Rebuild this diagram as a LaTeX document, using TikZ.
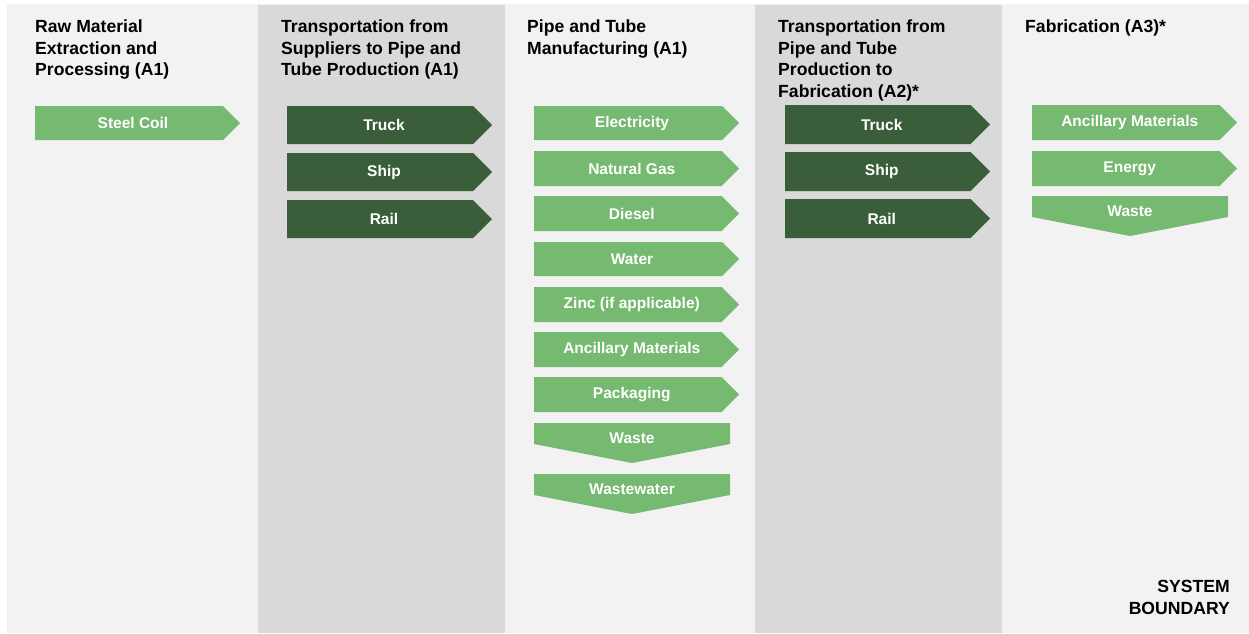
\documentclass[tikz,border=0pt]{standalone}
\usepackage{fontspec}
\setmainfont{Liberation Sans}
\definecolor{bglight}{RGB}{242,242,242}
\definecolor{bgdark}{RGB}{217,217,217}
\definecolor{glight}{RGB}{118,185,113}
\definecolor{gdark}{RGB}{59,94,58}
\tikzset{
  heading/.style={anchor=north west, align=left, inner sep=0pt, font=\fontsize{17.6}{21.5}\selectfont\bfseries, text=black},
  arrlabel/.style={inner sep=0pt, font=\fontsize{15.5}{17}\selectfont\bfseries, text=white},
}
% name, x-left, y-top, width, height, colour, text
\newcommand\myRarrow[7]{%
  \fill[#6] (#2,#3) -- ++({#4-#5/2},0) -- ++({#5/2},{#5/2}) -- ++({-#5/2},{#5/2}) -- ++({-(#4-#5/2)},0) -- cycle;
  \node[arrlabel] (#1) at ({#2+(#4-#5/2)/2+4},{#3+#5/2}) {#7};
}
% name, x-left, y-top, width, text
\newcommand\myDarrow[5]{%
  \fill[glight] (#2,#3) -- ++(#4,0) -- ++(0,21) -- ({#2+#4/2},{#3+40}) -- (#2,{#3+21}) -- cycle;
  \node[arrlabel] (#1) at ({#2+#4/2},{#3+15}) {#5};
}
\begin{document}
\begin{tikzpicture}[x=1pt,y=-1pt]
\useasboundingbox (0,0) rectangle (1249,633);
\fill[white] (0,0) rectangle (1249,633);
\fill[bglight] (7,4) rectangle (1249,633);
\fill[bgdark] (258,5) rectangle (505,633);
\fill[bgdark] (755,5) rectangle (1002,633);
% headings
\node[heading] (h1) at (35,20) {Raw Material\\Extraction and\\Processing (A1)};
\node[heading] (h2) at (281,20) {Transportation from\\Suppliers to Pipe and\\Tube Production (A1)};
\node[heading] (h3) at (527,20) {Pipe and Tube\\Manufacturing (A1)};
\node[heading] (h4) at (778,20) {Transportation from\\Pipe and Tube\\Production to\\Fabrication (A2)*};
\node[heading] (h5) at (1025,20) {Fabrication (A3)*};
% column 1
\myRarrow{c1}{35}{106}{205}{34}{glight}{Steel Coil}
% column 2
\myRarrow{t1}{287}{106}{205}{38}{gdark}{Truck}
\myRarrow{s1}{287}{153}{205}{38}{gdark}{Ship}
\myRarrow{r1}{287}{200}{205}{38}{gdark}{Rail}
% column 3
\myRarrow{e3}{534}{106}{205}{34}{glight}{Electricity}
\myRarrow{g3}{534}{151}{205}{35}{glight}{Natural Gas}
\myRarrow{d3}{534}{196}{205}{35}{glight}{Diesel}
\myRarrow{w3}{534}{242}{205}{34}{glight}{Water}
\myRarrow{z3}{534}{287}{205}{35}{glight}{Zinc (if applicable)}
\myRarrow{a3}{534}{332}{205}{35}{glight}{Ancillary Materials}
\myRarrow{p3}{534}{377}{205}{35}{glight}{Packaging}
\myDarrow{ws3}{534}{423}{196}{Waste}
\myDarrow{ww3}{534}{474}{196}{Wastewater}
% column 4
\myRarrow{t2}{785}{105}{205}{39}{gdark}{Truck}
\myRarrow{s2}{785}{152}{205}{39}{gdark}{Ship}
\myRarrow{r2}{785}{199}{205}{39}{gdark}{Rail}
% column 5
\myRarrow{a5}{1032}{105}{205}{35}{glight}{Ancillary Materials}
\myRarrow{en5}{1032}{151}{205}{35}{glight}{Energy}
\myDarrow{ws5}{1032}{196}{196}{Waste}
% system boundary
\node[heading, anchor=north east, align=right] (sb) at (1230,580) {SYSTEM\\BOUNDARY};
\end{tikzpicture}
\end{document}
